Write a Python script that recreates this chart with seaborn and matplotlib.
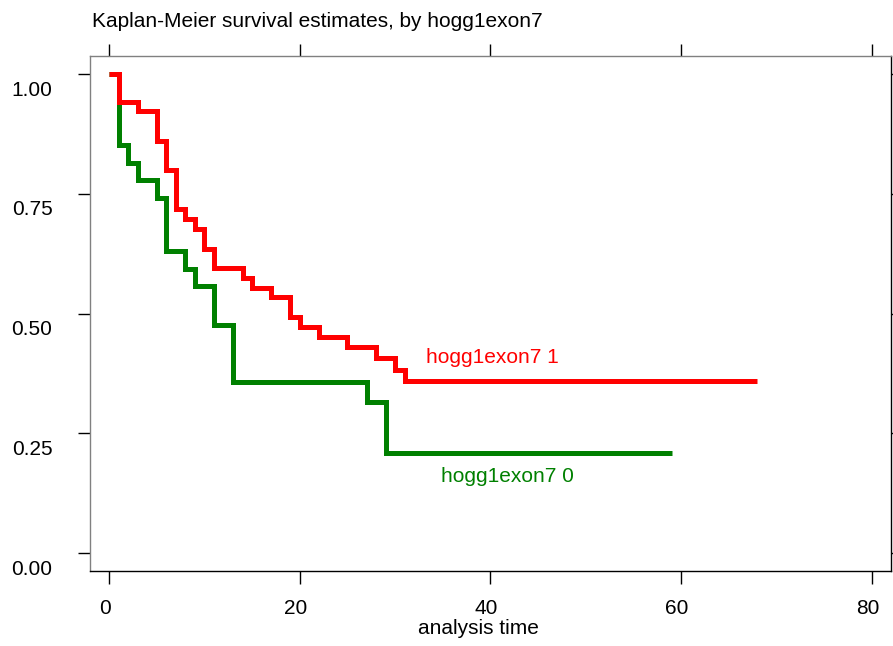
import matplotlib
matplotlib.use("Agg")
import matplotlib.pyplot as plt
import matplotlib.transforms as mtransforms
import numpy as np
import pandas as pd
import seaborn as sns

# ---- data ----
time_g0 = [0, 1, 2, 3, 5, 6, 8, 9, 11, 13, 27, 29, 59]
surv_g0 = [1.0, 0.851, 0.814, 0.779, 0.741, 0.631, 0.593, 0.557, 0.477, 0.358, 0.315, 0.209, 0.209]

time_g1 = [0, 1, 3, 5, 6, 7, 8, 9, 10, 11, 14, 15, 17, 19, 20, 22, 25, 28, 30, 31, 68]
surv_g1 = [1.0, 0.941, 0.922, 0.861, 0.800, 0.718, 0.697, 0.677, 0.635, 0.596, 0.575,
           0.554, 0.534, 0.492, 0.472, 0.451, 0.431, 0.407, 0.383, 0.359, 0.359]

groups = ["hogg1exon7 0", "hogg1exon7 1"]
colors = {"hogg1exon7 0": "#008000", "hogg1exon7 1": "#FF0000"}
x_ticks = [0, 20, 40, 60, 80]
y_ticks = [0.0, 0.25, 0.50, 0.75, 1.00]
y_tick_labels = ["0.00", "0.25", "0.50", "0.75", "1.00"]
title = "Kaplan-Meier survival estimates, by hogg1exon7"
xlabel = "analysis time"

df = pd.concat([
    pd.DataFrame({"time": time_g0, "surv": surv_g0, "group": groups[0]}),
    pd.DataFrame({"time": time_g1, "surv": surv_g1, "group": groups[1]}),
], ignore_index=True)

sns.set_style("white")
plt.rcParams["font.family"] = ["Liberation Sans", "DejaVu Sans"]
plt.rcParams["font.size"] = 15
plt.rcParams["text.color"] = "black"

fig = plt.figure(figsize=(8.93, 6.46), dpi=100)
W, H = 893, 646
left_px, right_px, top_px, bot_px = 90, 891, 56, 571.3
ax = fig.add_axes([left_px / W, 1 - bot_px / H, (right_px - left_px) / W, (bot_px - top_px) / H])

sns.lineplot(data=df, x="time", y="surv", hue="group", hue_order=groups,
             palette=colors, drawstyle="steps-post", estimator=None,
             linewidth=3.6, legend=False, ax=ax,
             solid_joinstyle="miter", solid_capstyle="butt")

ax.set_xlim(-2, 82)
ax.set_ylim(-0.0376, 1.0376)
ax.set_xticks(x_ticks)
ax.set_xticklabels([str(v) for v in x_ticks])
ax.set_yticks(y_ticks)
ax.set_yticklabels(y_tick_labels)
ax.set_xlabel("")
ax.set_ylabel("")

ax.tick_params(axis="both", which="major", direction="out", length=9, width=1,
               colors="black", labelsize=15, labelcolor="black")
ax.tick_params(axis="x", top=True, bottom=True, pad=11)
ax.tick_params(axis="y", left=True, right=True, pad=18)

for side in ["left", "top"]:
    ax.spines[side].set_color("#808080")
    ax.spines[side].set_linewidth(1.0)
for side in ["bottom", "right"]:
    ax.spines[side].set_color("#000000")
    ax.spines[side].set_linewidth(1.0)

# label offsets as in the reference
dy = mtransforms.ScaledTranslation(0, -14 / 100, fig.dpi_scale_trans)
for lab in ax.get_yticklabels():
    lab.set_transform(lab.get_transform() + dy)
dx = mtransforms.ScaledTranslation(-4.5 / 100, 0, fig.dpi_scale_trans)
for lab in ax.get_xticklabels():
    lab.set_transform(lab.get_transform() + dx)

# curve labels
ax.text(33.2, 0.408, groups[1], color=colors[groups[1]], ha="left", va="center", fontsize=15)
ax.text(34.8, 0.161, groups[0], color=colors[groups[0]], ha="left", va="center", fontsize=15)

fig.text(92 / W, 1 - 26.7 / H, title, ha="left", va="baseline", fontsize=15, color="black")
fig.text(478.5 / W, 1 - 629 / H, xlabel, ha="center", va="center", fontsize=15, color="black")

fig.savefig("out.png", dpi=100)
